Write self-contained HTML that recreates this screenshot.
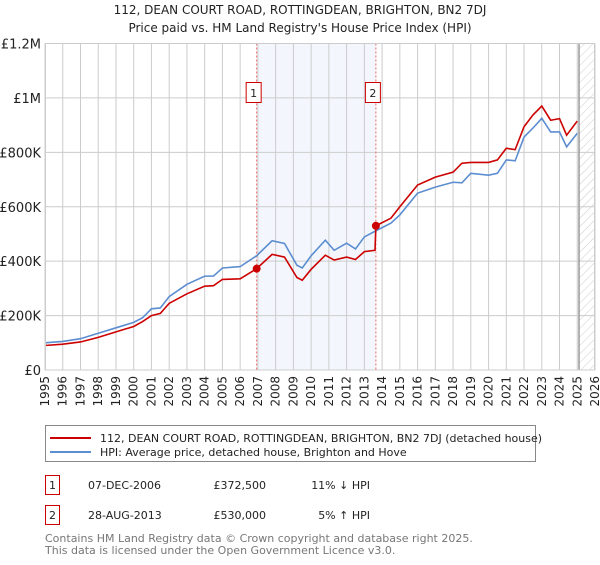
<!DOCTYPE html>
<html><head><meta charset="utf-8"><style>
body{margin:0;background:#fff;}
svg text{font-family:"DejaVu Sans","Liberation Sans",sans-serif;}
</style></head><body>
<svg id="chart" width="600" height="560" xmlns="http://www.w3.org/2000/svg">
<defs><pattern id="hatch" width="6" height="6" patternUnits="userSpaceOnUse" patternTransform="rotate(45)"><line x1="0" y1="0" x2="0" y2="6" stroke="#ccc" stroke-width="1"/></pattern></defs>
<text x="300" y="14" text-anchor="middle" font-size="12" fill="#222">112, DEAN COURT ROAD, ROTTINGDEAN, BRIGHTON, BN2 7DJ</text>
<text x="300" y="32" text-anchor="middle" font-size="12" fill="#222">Price paid vs. HM Land Registry's House Price Index (HPI)</text>
<g id="plot"></g>
<rect x="45.5" y="425.5" width="490" height="36" fill="#fff" stroke="#888"/>
<line x1="50" y1="438" x2="91" y2="438" stroke="#cc0000" stroke-width="2"/>
<text x="100" y="442" font-size="11" fill="#222">112, DEAN COURT ROAD, ROTTINGDEAN, BRIGHTON, BN2 7DJ (detached house)</text>
<line x1="50" y1="452" x2="91" y2="452" stroke="#5b8dd0" stroke-width="2"/>
<text x="100" y="456" font-size="11" fill="#222">HPI: Average price, detached house, Brighton and Hove</text>
<g>
<rect x="45.5" y="475.5" width="14" height="19" fill="#fff" stroke="#cc0000"/>
<text x="52.5" y="489" text-anchor="middle" font-size="11" fill="#222">1</text>
<text x="88" y="489" font-size="11" fill="#222">07-DEC-2006</text>
<text x="266" y="489" text-anchor="end" font-size="11" fill="#222">£372,500</text>
<text x="370" y="489" text-anchor="end" font-size="11" fill="#222">11% ↓ HPI</text></g>
<g>
<rect x="45.5" y="505.5" width="14" height="19" fill="#fff" stroke="#cc0000"/>
<text x="52.5" y="519" text-anchor="middle" font-size="11" fill="#222">2</text>
<text x="88" y="519" font-size="11" fill="#222">28-AUG-2013</text>
<text x="266" y="519" text-anchor="end" font-size="11" fill="#222">£530,000</text>
<text x="370" y="519" text-anchor="end" font-size="11" fill="#222">5% ↑ HPI</text></g>
<text x="45" y="542" font-size="11" fill="#777">Contains HM Land Registry data © Crown copyright and database right 2025.</text>
<text x="45" y="554" font-size="11" fill="#777">This data is licensed under the Open Government Licence v3.0.</text>
</svg>
<script>
const hpiYears=[1995,1996,1997,1998,1999,2000,2000.5,2001,2001.5,2002,2003,2004,2004.5,2005,2006,2006.93,2007.8,2008.5,2009.2,2009.5,2010,2010.8,2011.3,2012,2012.5,2013,2013.6,2014.5,2015,2016,2017,2018,2018.5,2019,2020,2020.5,2021,2021.5,2022,2022.5,2023,2023.5,2024,2024.4,2025];
const hpiValues=[100,105,115,135,155,175,192,225,228,270,315,345,345,375,380,420,475,465,385,375,420,477,440,466,445,489,510,540,570,650,672,690,688,723,716,723,772,769,856,889,925,875,875,820,870];
const redYears=[1995,1996,1997,1998,1999,2000,2000.5,2001,2001.5,2002,2003,2004,2004.5,2005,2006,2006.93,2007.8,2008.5,2009.2,2009.5,2010,2010.8,2011.3,2012,2012.5,2013,2013.6,2013.65,2014.5,2015,2016,2017,2018,2018.5,2019,2020,2020.5,2021,2021.5,2022,2022.5,2023,2023.5,2024,2024.4,2025];
const redValues=[90,95,103,120,140,160,178,200,208,245,280,308,310,333,335,372.5,425,415,340,330,370,422,404,415,406,435,440,530,558,600,680,709,727,760,763,763,772,815,810,894,937,970,918,924,863,915];
const saleYears=[2006.93,2013.65];
const saleValues=[372.5,530];
const saleLabels=["1","2"];
const yTicks=[0,200,400,600,800,1000,1200];
const yTickLabels=["£0","£200K","£400K","£600K","£800K","£1M","£1.2M"];
const xTicks=[1995,1996,1997,1998,1999,2000,2001,2002,2003,2004,2005,2006,2007,2008,2009,2010,2011,2012,2013,2014,2015,2016,2017,2018,2019,2020,2021,2022,2023,2024,2025,2026];
const X0=45,X1=595,Y0=370,Y1=43.5;
const xs=t=>X0+(t-1995)/(2026-1995)*(X1-X0);
const ys=v=>Y0-v/1200*(Y0-Y1);
const g=document.getElementById('plot');
const NS='http://www.w3.org/2000/svg';
function mk(tag,attrs){const e=document.createElementNS(NS,tag);for(const k in attrs)e.setAttribute(k,attrs[k]);g.appendChild(e);return e;}
let e=mk('rect',{x:xs(saleYears[0]),y:Y1,width:xs(saleYears[1])-xs(saleYears[0]),height:Y0-Y1,fill:'#eef3fc',opacity:0.7});


e=mk('rect',{x:xs(2025.1),y:Y1,width:X1-xs(2025.1),height:Y0-Y1,fill:'url(#hatch)'});


xTicks.forEach(t=>{const l=mk('line',{x1:xs(t),x2:xs(t),y1:Y1,y2:Y0,stroke:'#ccc'});


const tx=mk('text',{x:0,y:0,'font-size':12,fill:'#222','text-anchor':'end',transform:`translate(${xs(t)+4},${Y0+6}) rotate(-90)`});tx.textContent=t;

});
yTicks.forEach((v,i)=>{const l=mk('line',{x1:X0,x2:X1,y1:ys(v),y2:ys(v),stroke:'#ccc'});


const tx=mk('text',{x:X0-4,y:ys(v)+5,'font-size':13,fill:'#222','text-anchor':'end'});tx.textContent=yTickLabels[i];

});
e=mk('line',{x1:xs(2025.1),x2:xs(2025.1),y1:Y1,y2:Y0,stroke:'#999','stroke-width':1.5});


saleYears.forEach((t,i)=>{const l=mk('line',{x1:xs(t),x2:xs(t),y1:Y1,y2:Y0,stroke:'#e66','stroke-dasharray':'2,2'});


const r=mk('rect',{x:xs(t)-10.5,y:82.5,width:15,height:20,fill:'#fff',stroke:'#cc0000'});


const tx=mk('text',{x:xs(t)-3,y:97,'font-size':11,fill:'#222','text-anchor':'middle'});tx.textContent=saleLabels[i];

});
function line(ts,vs,c,n){const p=mk('polyline',{points:ts.map((t,i)=>xs(t)+','+ys(vs[i])).join(' '),fill:'none',stroke:c,'stroke-width':1.6});

}
line(hpiYears,hpiValues,'#5b8dd0','hpi-line');
line(redYears,redValues,'#cc0000','price-paid-line');
saleYears.forEach((t,i)=>{const c=mk('circle',{cx:xs(t),cy:ys(saleValues[i]),r:4,fill:'#cc0000'});

});
e=mk('rect',{x:X0+0.5,y:Y1,width:X1-X0-1,height:Y0-Y1,fill:'none',stroke:'#ccc'});


</script>
</body></html>
